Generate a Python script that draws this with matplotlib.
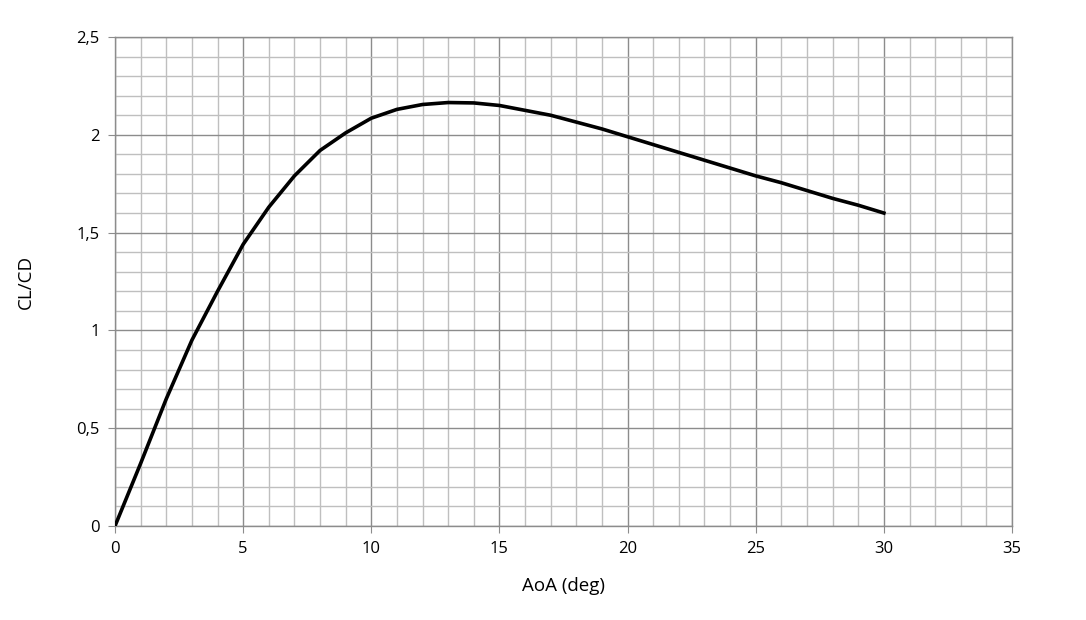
import numpy as np
import matplotlib
matplotlib.use("Agg")
import matplotlib.pyplot as plt
from matplotlib.ticker import MultipleLocator, FuncFormatter

# ── Data ─────────────────────────────────────────────────────
aoa = list(range(0, 31))
cl_cd = [0.00, 0.32, 0.65, 0.95, 1.20, 1.44, 1.63, 1.79, 1.92, 2.01,
         2.085, 2.13, 2.155, 2.165, 2.163, 2.15, 2.125, 2.10, 2.065, 2.03,
         1.99, 1.95, 1.91, 1.87, 1.83, 1.79, 1.755, 1.715, 1.675, 1.64,
         1.60]

x_label = "AoA (deg)"
y_label = "CL/CD"

# ── Plot ─────────────────────────────────────────────────────
plt.rcParams["font.family"] = ["Open Sans", "DejaVu Sans"]

fig = plt.figure(figsize=(10.86, 6.2), dpi=100)
ax = fig.add_axes([0.1059, 0.1516, 0.826, 0.7887])

ax.plot(aoa, cl_cd, color="black", linewidth=2.6, zorder=3)

ax.set_xlim(0, 35)
ax.set_ylim(0, 2.5)
ax.xaxis.set_major_locator(MultipleLocator(5))
ax.xaxis.set_minor_locator(MultipleLocator(1))
ax.yaxis.set_major_locator(MultipleLocator(0.5))
ax.yaxis.set_minor_locator(MultipleLocator(0.1))

fmt = FuncFormatter(lambda v, p: f"{v:g}".replace(".", ","))
ax.yaxis.set_major_formatter(fmt)

ax.grid(which="major", color="#8c8c8c", linewidth=1.0)
ax.grid(which="minor", color="#bfbfbf", linewidth=1.0)
ax.set_axisbelow(True)

for s in ax.spines.values():
    s.set_color("#8c8c8c")
    s.set_linewidth(1.0)

ax.tick_params(which="major", length=5, color="#8c8c8c", labelsize=12, pad=6)
ax.tick_params(which="minor", length=0)

ax.set_xlabel(x_label, fontsize=13.5, labelpad=14)
ax.set_ylabel(y_label, fontsize=13.5, labelpad=30)

fig.savefig("out.png", dpi=100)
plt.close(fig)
